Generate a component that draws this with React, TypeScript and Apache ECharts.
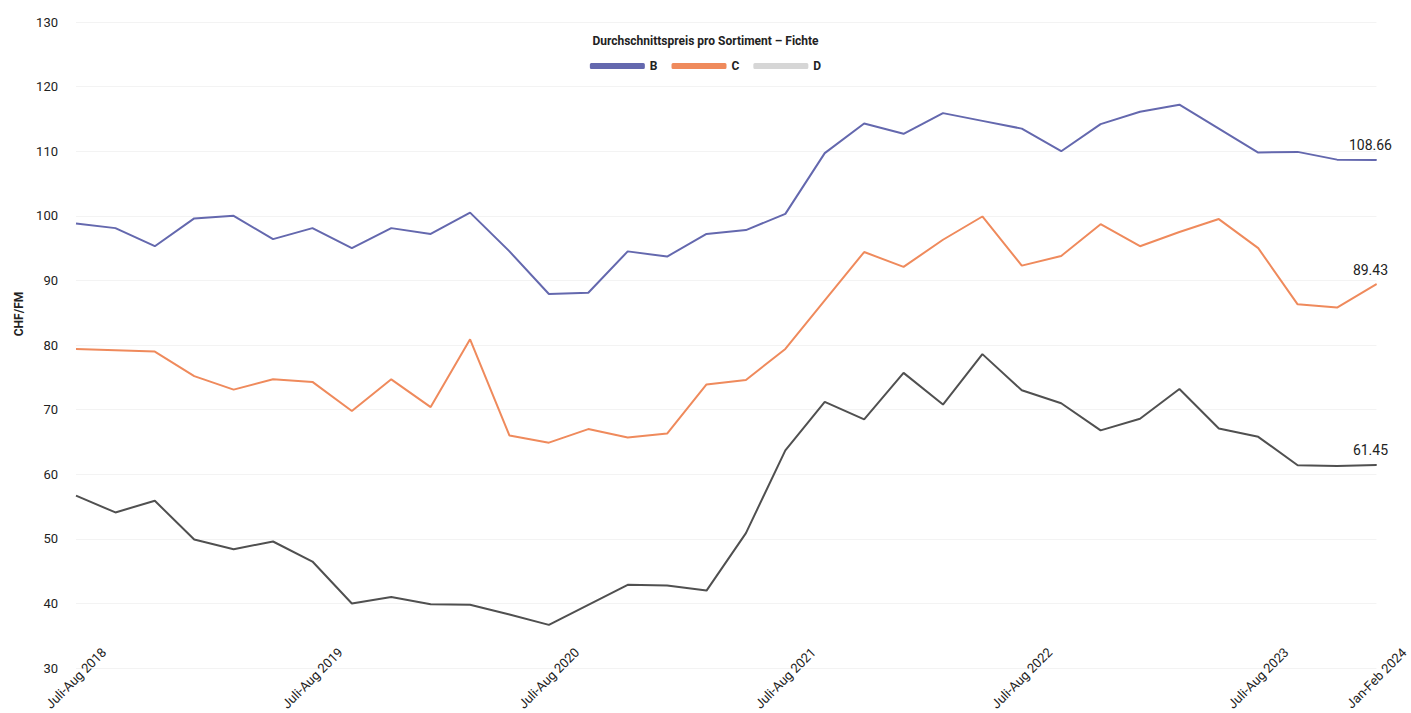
import React, { useEffect, useRef } from "react";
import * as echarts from "echarts";

const periods: string[] = [
  "Juli-Aug 2018", "Sep-Okt 2018", "Nov-Dez 2018", "Jan-Feb 2019", "März-Apr 2019", "Mai-Juni 2019",
  "Juli-Aug 2019", "Sep-Okt 2019", "Nov-Dez 2019", "Jan-Feb 2020", "März-Apr 2020", "Mai-Juni 2020",
  "Juli-Aug 2020", "Sep-Okt 2020", "Nov-Dez 2020", "Jan-Feb 2021", "März-Apr 2021", "Mai-Juni 2021",
  "Juli-Aug 2021", "Sep-Okt 2021", "Nov-Dez 2021", "Jan-Feb 2022", "März-Apr 2022", "Mai-Juni 2022",
  "Juli-Aug 2022", "Sep-Okt 2022", "Nov-Dez 2022", "Jan-Feb 2023", "März-Apr 2023", "Mai-Juni 2023",
  "Juli-Aug 2023", "Sep-Okt 2023", "Nov-Dez 2023", "Jan-Feb 2024",
];

const shownLabels: string[] = [
  "Juli-Aug 2018", "Juli-Aug 2019", "Juli-Aug 2020", "Juli-Aug 2021",
  "Juli-Aug 2022", "Juli-Aug 2023", "Jan-Feb 2024",
];

const seriesB: number[] = [
  98.8, 98.1, 95.3, 99.6, 100.0, 96.4, 98.1, 95.0, 98.1, 97.2, 100.5, 94.5,
  87.9, 88.1, 94.5, 93.7, 97.2, 97.8, 100.3, 109.7, 114.3, 112.7, 115.9, 114.7,
  113.5, 110.0, 114.2, 116.1, 117.2, 113.5, 109.8, 109.9, 108.7, 108.66,
];

const seriesC: number[] = [
  79.4, 79.2, 79.0, 75.2, 73.1, 74.7, 74.3, 69.8, 74.7, 70.4, 80.9, 66.0,
  64.9, 67.0, 65.7, 66.3, 73.9, 74.6, 79.4, 86.9, 94.4, 92.1, 96.3, 99.9,
  92.3, 93.8, 98.7, 95.3, 97.5, 99.5, 95.0, 86.3, 85.8, 89.43,
];

const seriesD: number[] = [
  56.7, 54.1, 55.9, 49.9, 48.4, 49.6, 46.5, 40.0, 41.0, 39.9, 39.8, 38.3,
  36.7, 39.8, 42.9, 42.8, 42.0, 50.9, 63.7, 71.2, 68.5, 75.7, 70.8, 78.6,
  73.0, 71.0, 66.8, 68.6, 73.2, 67.1, 65.8, 61.4, 61.3, 61.45,
];

const seriesNames = ["B", "C", "D"];
const lineColors = ["#6468ae", "#ef8a5c", "#505050"];
const legendColors = ["#6468ae", "#ef8a5c", "#d6d6d6"];

const FONT = "Roboto, 'Noto Sans', sans-serif";

function withEndLabel(values: number[], color: string) {
  return values.map((v, i) =>
    i === values.length - 1
      ? {
          value: v,
          symbol: "circle",
          symbolSize: 1,
          itemStyle: { color },
          label: {
            show: true,
            position: "top",
            distance: 7,
            offset: [-6, 0],
            formatter: () => v.toFixed(2),
            color: "#222",
            fontSize: 14,
            fontFamily: FONT,
          },
        }
      : v
  );
}

export default function App() {
  const ref = useRef<HTMLDivElement>(null);

  useEffect(() => {
    document.body.style.margin = "0";
    if (!ref.current) return;
    const chart = echarts.init(ref.current, null, { renderer: "svg" });
    const datasets = [seriesB, seriesC, seriesD];
    chart.setOption({
      animation: false,
      backgroundColor: "#ffffff",
      title: {
        text: "Durchschnittspreis pro Sortiment – Fichte",
        left: "center",
        top: 30,
        textStyle: { fontSize: 12, fontWeight: "bold", color: "#222", fontFamily: FONT },
      },
      legend: {
        top: 55,
        left: "center",
        icon: "roundRect",
        itemWidth: 55,
        itemHeight: 6,
        itemGap: 14,
        textStyle: { fontSize: 12, fontWeight: "bold", color: "#222", fontFamily: FONT },
        data: seriesNames.map((n, i) => ({ name: n, itemStyle: { color: legendColors[i] } })),
      },
      grid: { left: 76, right: 25, top: 22, bottom: 43, containLabel: false },
      graphic: [
        {
          type: "text",
          x: 19,
          y: 314,
          rotation: Math.PI / 2,
          style: {
            text: "CHF/FM",
            fontSize: 12,
            fontWeight: "bold",
            fontFamily: FONT,
            fill: "#222",
            align: "center",
            verticalAlign: "middle",
          },
        },
      ],
      xAxis: {
        type: "category",
        data: periods,
        boundaryGap: false,
        axisLine: { show: false },
        axisTick: { show: false },
        splitLine: { show: false },
        axisLabel: {
          interval: (idx: number, val: string) => shownLabels.includes(val),
          rotate: 45,
          align: "center",
          verticalAlign: "middle",
          margin: 10,
          fontSize: 13,
          color: "#222",
          fontFamily: FONT,
          hideOverlap: false,
        },
      },
      yAxis: {
        type: "value",
        min: 30,
        max: 130,
        interval: 10,
        axisLine: { show: false },
        axisTick: { show: false },
        splitLine: { show: true, lineStyle: { color: "#f3f3f3", width: 1 } },
        axisLabel: { margin: 18, fontSize: 13, color: "#222", fontFamily: FONT },
      },
      series: seriesNames.map((n, i) => ({
        name: n,
        type: "line",
        data: withEndLabel(datasets[i], lineColors[i]),
        symbol: "none",
        showSymbol: true,
        itemStyle: { color: legendColors[i] },
        lineStyle: { color: lineColors[i], width: 2 },
        emphasis: { disabled: true },
      })),
    });
    return () => chart.dispose();
  }, []);

  return <div ref={ref} style={{ width: 1411, height: 713 }} />;
}
